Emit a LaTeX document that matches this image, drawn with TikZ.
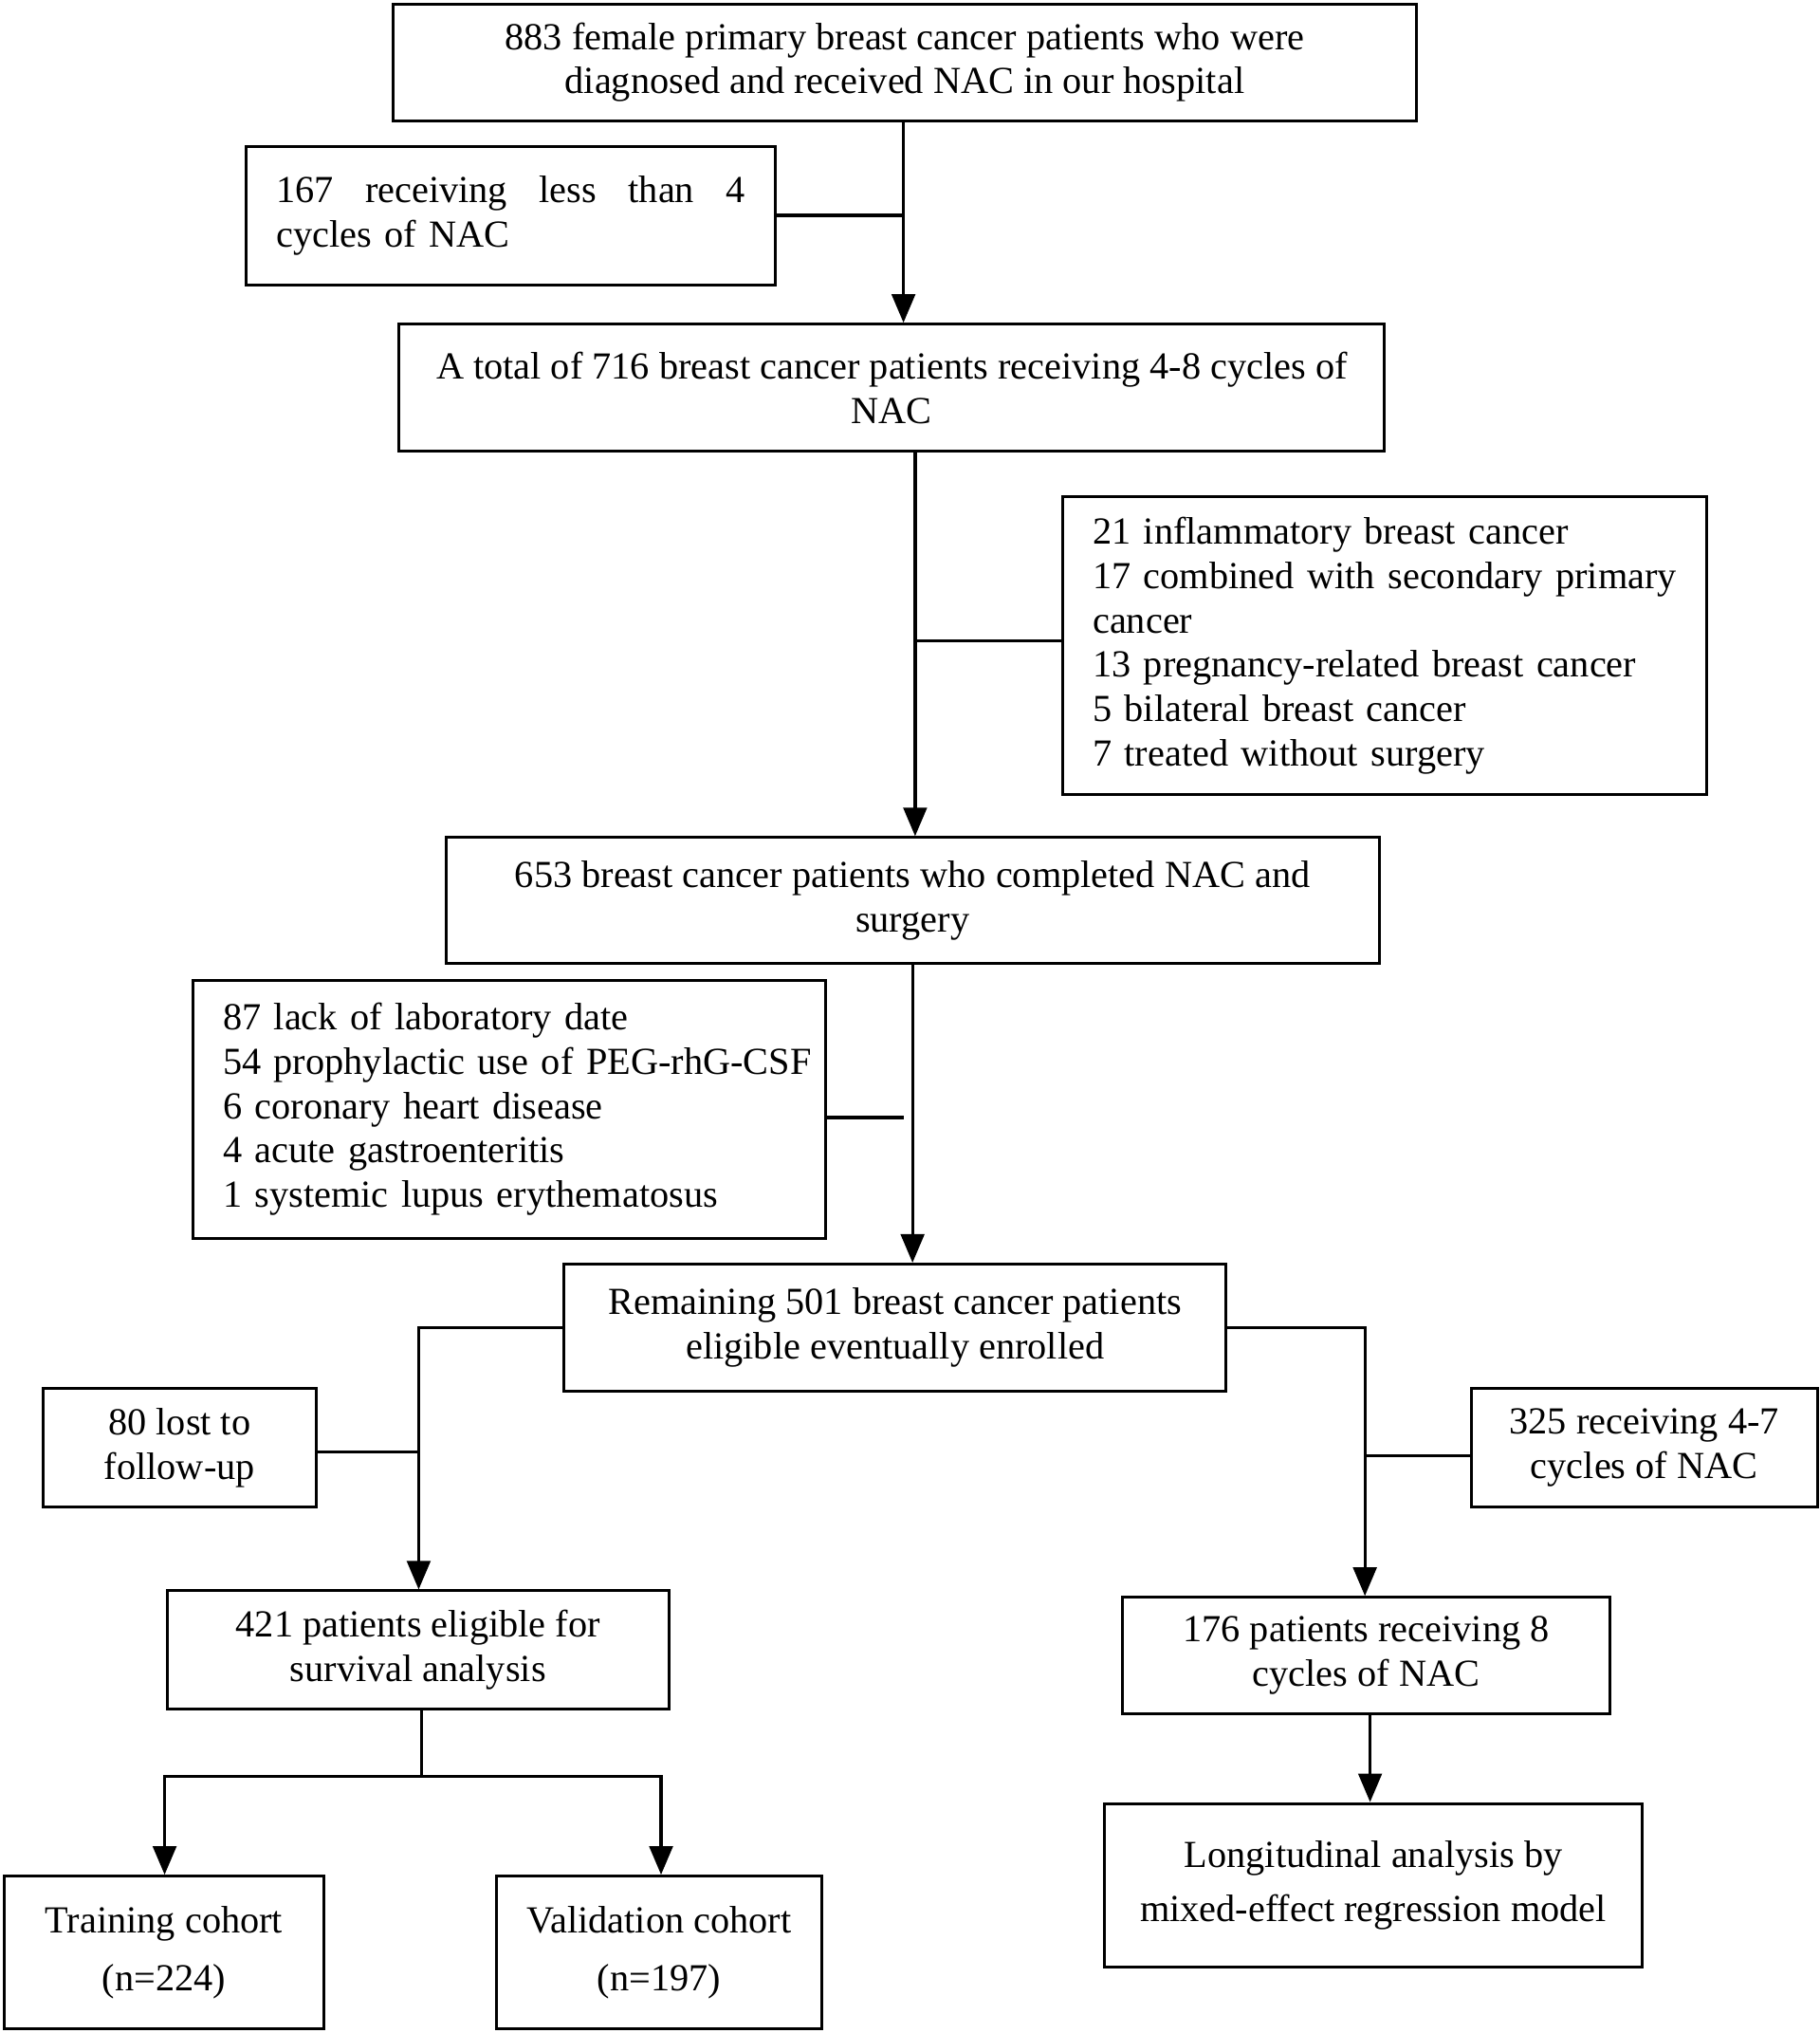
\documentclass[tikz,border=0pt]{standalone}
\usepackage{fontspec}
\setmainfont{Liberation Serif}
\usetikzlibrary{arrows.meta}
\begin{document}
\begin{tikzpicture}[x=1pt,y=-1pt,
  box/.style={draw, line width=2.2pt, inner sep=0pt, align=center,
    font=\fontsize{29.5}{34.3}\selectfont},
  lbox/.style={box, align=left},
  line/.style={line width=2.4pt},
  arr/.style={line width=2.4pt, -{Triangle[width=18pt,length=22pt]}}]
\useasboundingbox (0,0) rectangle (1404,1568);
\node[box, minimum width=790pt, minimum height=90pt] (top) at (698,48)
  {883 female primary breast cancer patients who were\\diagnosed and received NAC in our hospital};
\node[lbox, minimum width=408pt, minimum height=107pt, text width=362pt] (b167) at (394,166.5)
  {\mbox{}167\hfill receiving\hfill less\hfill than\hfill 4\\cycles of NAC\\[8pt]};
\node[box, minimum width=760pt, minimum height=98pt] (b716) at (688,299)
  {A total of 716 breast cancer patients receiving 4-8 cycles of\\NAC};
\node[lbox, minimum width=497pt, minimum height=230pt, text width=451pt] (excl) at (1068.5,498)
  {21 inflammatory breast cancer\\\mbox{17 combined with secondary primary}\\cancer\\13 pregnancy-related breast cancer\\5 bilateral breast cancer\\7 treated without surgery};
\node[box, minimum width=720pt, minimum height=97pt] (b653) at (704,694.5)
  {653 breast cancer patients who completed NAC and\\surgery};
\node[lbox, minimum width=488pt, minimum height=199pt, text width=442pt] (b87) at (393,855.5)
  {87 lack of laboratory date\\\mbox{54 prophylactic use of PEG-rhG-CSF}\\6 coronary heart disease\\4 acute gastroenteritis\\1 systemic lupus erythematosus};
\node[box, minimum width=511pt, minimum height=98pt] (b501) at (690.5,1024)
  {Remaining 501 breast cancer patients\\eligible eventually enrolled};
\node[box, minimum width=211pt, minimum height=91pt] (b80) at (138.5,1116.5)
  {80 lost to\\follow-up};
\node[box, minimum width=267pt, minimum height=91pt] (b325) at (1268.5,1116.5)
  {325 receiving 4-7\\cycles of NAC};
\node[box, minimum width=387pt, minimum height=91pt] (b421) at (322.5,1272.5)
  {421 patients eligible for\\survival analysis};
\node[box, minimum width=376pt, minimum height=90pt] (b176) at (1054,1277)
  {176 patients receiving 8\\cycles of NAC};
\node[box, minimum width=247pt, minimum height=118pt, font=\fontsize{29.5}{45}\selectfont] (train) at (126.5,1506)
  {Training cohort\\(n=224)};
\node[box, minimum width=251pt, minimum height=118pt, font=\fontsize{29.5}{45}\selectfont] (valid) at (508.5,1506)
  {Validation cohort\\(n=197)};
\node[box, minimum width=415pt, minimum height=126pt, font=\fontsize{29.5}{42}\selectfont] (longi) at (1059.5,1454)
  {Longitudinal analysis by\\mixed-effect regression model};
% junctions
\coordinate (j1) at (697,166);
\coordinate (j2) at (706,494);
\coordinate (j3) at (704,862);
\coordinate (j4) at (323,1120);
\coordinate (j5) at (1053,1123);
\coordinate (j6) at (325,1370);
\coordinate (tl) at (127,1370);
\coordinate (vl) at (510,1370);
\draw[arr] (top.south -| j1) -- (b716.north -| j1);
\draw[line] (b167.east |- j1) -- (j1);
\draw[arr] (b716.south -| j2) -- (b653.north -| j2);
\draw[line] (excl.west |- j2) -- (j2);
\draw[arr] (b653.south -| j3) -- (b501.north -| j3);
\draw[line] (b87.east |- j3) -- ([xshift=-7pt]j3);
\draw[arr] (b501.west) -| (b421.north -| j4);
\draw[line] (b80.east |- j4) -- (j4);
\draw[arr] (b501.east) -| (b176.north -| j5);
\draw[line] (b325.west |- j5) -- (j5);
\draw[line] (b421.south -| j6) -- (j6);
\draw[arr] (j6) -- (tl) -- (train.north -| tl);
\draw[arr] (j6) -- (vl) -- (valid.north -| vl);
\draw[arr] (b176.south -| 1057,0) -- (longi.north -| 1057,0);
\end{tikzpicture}
\end{document}
